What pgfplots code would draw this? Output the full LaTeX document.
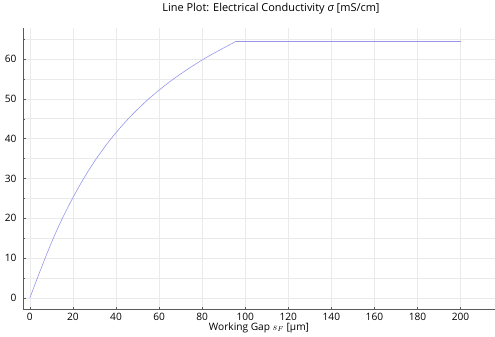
\documentclass[border=0pt]{standalone}
\usepackage{fontspec}
\setmainfont{Open Sans}
\usepackage{pgfplots}
\pgfplotsset{compat=1.18}
\definecolor{curve}{RGB}{150,150,235}
\definecolor{gridc}{RGB}{234,234,234}
\definecolor{axc}{RGB}{90,90,90}
\begin{document}
\begin{tikzpicture}
\useasboundingbox (-23bp,-28bp) rectangle (472bp,309bp);
\begin{axis}[
  at={(0,0)}, anchor=south west,
  scale only axis, width=472bp, height=281bp,
  xmin=-3.2, xmax=216, ymin=-2.8, ymax=67.8,
  axis x line*=bottom, axis y line*=left,
  axis line style={axc, line width=0.6pt, -},
  xtick={0,20,...,200}, ytick={0,10,...,60},
  minor ytick={5,15,...,65},
  grid=both,
  major grid style={gridc, line width=0.6pt},
  minor grid style={gridc, line width=0.6pt},
  tick style={axc, line width=0.4pt},
  major tick length=2.5bp, minor tick length=1.5bp,
  tick align=inside,
  tick label style={font=\fontsize{10.2}{11}\selectfont, text=black},
  /pgf/number format/assume math mode=true,
  xticklabel style={anchor=center, yshift=-8bp},
  yticklabel style={anchor=east, xshift=-3bp},
  title={Line Plot: Electrical Conductivity {\itshape σ} [mS/cm]},
  title style={font=\fontsize{11}{12}\selectfont, at={(0.5,1)}, anchor=center, yshift=13bp, xshift=12bp},
  xlabel={Working Gap $s_F$ [μm]},
  xlabel style={font=\fontsize{10.2}{11}\selectfont, at={(0.5,0)}, anchor=center, yshift=-18.5bp},
]
\addplot[curve, line width=0.6pt, smooth, tension=0.5] coordinates {
(0,0) (3.5,5) (7.1,10) (10.9,15) (15.1,20) (19.8,25) (25.0,30) (30.9,35)
(37.7,40) (45.7,45) (55.2,50) (66.7,55) (80.7,60) (95.9,64.5)
};
\addplot[curve, line width=0.6pt] coordinates {(95.9,64.5) (200,64.5)};
\end{axis}
\end{tikzpicture}
\end{document}
